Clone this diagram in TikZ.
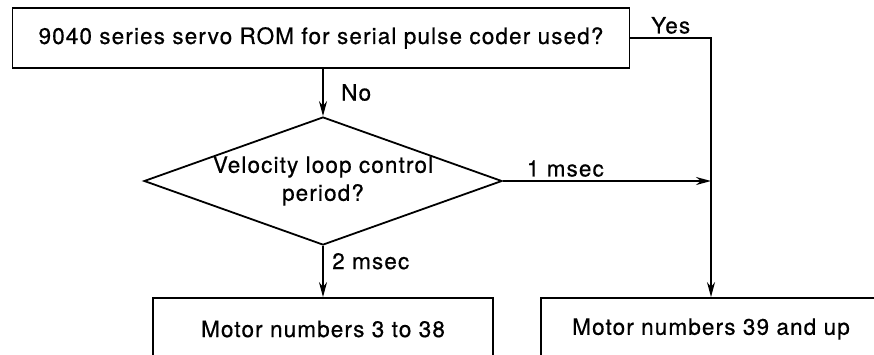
\documentclass[tikz,border=0pt]{standalone}
\usepackage{fontspec}
\setmainfont[LetterSpace=5,FakeBold=0.6]{TeX Gyre Heros}
\usetikzlibrary{positioning,shapes.geometric,arrows.meta}

\begin{document}
\begin{tikzpicture}[x=1pt, y=-1pt, line width=1.8pt,
  font=\fontsize{22.5}{28}\selectfont,
  >={Stealth[length=15pt,width=8pt]}]

\useasboundingbox (0,0) rectangle (874,354);
\clip (0,0) rectangle (874,354);

% Boxes
\node[draw, minimum width=617, minimum height=60] (rom) at (321,38) {9040 series servo ROM for serial pulse coder used?};
\node[draw, diamond, align=center, inner sep=-4pt, aspect=2.83, minimum width=358, minimum height=128] (period) at (323,181) {Velocity loop control\\period?};
\node[draw, minimum width=340, minimum height=62] (low) at (323,329) {Motor numbers 3 to 38};
\node[draw, minimum width=340, minimum height=62] (high) at (711,329) {Motor numbers 39 and up};

% Arrows
\draw[->] (rom.south -| period.north) -- (period.north) node[midway, right=14pt] {No};
\draw[->] (rom.east) -| (high.north) node[pos=0.25, above] {Yes};
\draw[->] (period.east) -- (period.east -| high.north) node[pos=0.3, above] {1 msec};
\draw[->] (period.south) -- (low.north) node[pos=0.3, right=5pt] {2 msec};

\end{tikzpicture}
\end{document}
